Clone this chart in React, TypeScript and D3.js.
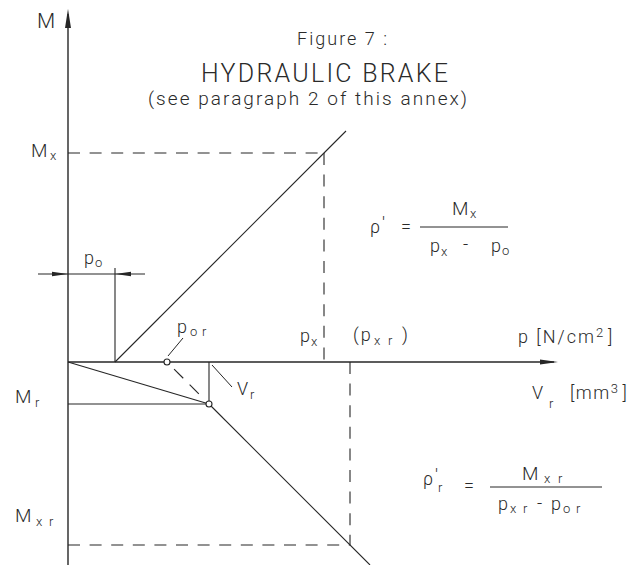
import React from "react";
import * as d3 from "d3";

// Diagram values (abstract units: p to the right, M upwards)
const pAxisRange = [0, 490];
const mAxisRange = [-203, 352];
const pNames = ["p0", "por", "pr", "px", "pxr"];
const pValues = [47, 99, 141, 256, 282];
const mNames = ["Mx", "Mr", "Mxr"];
const mValues = [209, -42, -183];
const upperLineEnd = [278, 231];
const lowerLineEnd = [302, -203];
const dimensionLevel = [88];
const dimensionSpan = [-30, 77];
const p0TickTop = [94];

const W = 637;
const H = 565;
const INK = "#262626";
const FONT = "Roboto, 'DejaVu Sans', sans-serif";

export default function App() {
  const x = d3.scaleLinear().domain(pAxisRange).range([68, 558]);
  const y = d3.scaleLinear().domain(mAxisRange).range([H, 10]);
  const P = (n: string) => pValues[pNames.indexOf(n)];
  const M = (n: string) => mValues[mNames.indexOf(n)];
  const line = d3.line<[number, number]>().x((d) => x(d[0])).y((d) => y(d[1]));

  const p0 = P("p0"), por = P("por"), pr = P("pr"), px = P("px"), pxr = P("pxr");
  const Mx = M("Mx"), Mr = M("Mr"), Mxr = M("Mxr");

  const solid: [number, number][][] = [
    [[p0, 0], [upperLineEnd[0], upperLineEnd[1]]],
    [[p0, 0], [p0, p0TickTop[0]]],
    [[0, 0], [pr, Mr]],
    [[0, Mr], [pr, Mr]],
    [[pr, 0], [pr, Mr]],
    [[pr, Mr], [lowerLineEnd[0], lowerLineEnd[1]]],
    [[dimensionSpan[0], dimensionLevel[0]], [dimensionSpan[1], dimensionLevel[0]]],
  ];
  const dashed: [number, number][][] = [
    [[0, Mx], [px, Mx]],
    [[px, Mx], [px, 0]],
    [[pxr, 0], [pxr, Mxr]],
    [[0, Mxr], [pxr, Mxr]],
  ];

  const ox = x(0), oy = y(0);
  const topY = y(mAxisRange[1]);
  const rightX = x(pAxisRange[1]);

  // arrowheads
  const yArrow = `M${ox},${topY - 1} L${ox - 3},${topY + 18} L${ox + 3},${topY + 18} Z`;
  const xArrow = `M${rightX},${oy} L${rightX - 18},${oy - 2.6} L${rightX - 18},${oy + 2.6} Z`;
  const dimY = y(dimensionLevel[0]);
  const dimLeft = `M${ox},${dimY} L${ox - 16},${dimY - 2.2} L${ox - 16},${dimY + 2.2} Z`;
  const dimRight = `M${x(p0)},${dimY} L${x(p0) + 16},${dimY - 2.2} L${x(p0) + 16},${dimY + 2.2} Z`;

  // dashed construction from p_or to point (pr, Mr)
  const a = [x(por), y(0)], b = [x(pr), y(Mr)];
  const len = Math.hypot(b[0] - a[0], b[1] - a[1]);
  const u = [(b[0] - a[0]) / len, (b[1] - a[1]) / len];
  const seg = (s: number, e: number) =>
    `M${a[0] + u[0] * s},${a[1] + u[1] * s} L${a[0] + u[0] * e},${a[1] + u[1] * e}`;

  const txt = { fontFamily: FONT, fontWeight: 300, fill: "#2a2a2a" } as const;
  const T = (
    px_: number,
    py: number,
    s: string,
    size = 18,
    ls = 0
  ) => (
    <text {...txt} x={px_} y={py} fontSize={size} letterSpacing={ls}>
      {s}
    </text>
  );

  return (
    <svg
      width={W}
      height={H}
      viewBox={`0 0 ${W} ${H}`}
      style={{ position: "fixed", left: 0, top: 0, background: "#fff" }}
    >
      <rect width={W} height={H} fill="#fff" />
      {/* axes */}
      <line x1={ox} y1={topY + 4} x2={ox} y2={H} stroke={INK} strokeWidth={1.4} />
      <line x1={ox} y1={oy} x2={rightX - 4} y2={oy} stroke={INK} strokeWidth={1.4} />
      <path d={yArrow} fill={INK} />
      <path d={xArrow} fill={INK} />
      <path d={dimLeft} fill={INK} />
      <path d={dimRight} fill={INK} />

      {solid.map((s, i) => (
        <path key={"s" + i} d={line(s) || ""} stroke={INK} strokeWidth={1.1} fill="none" />
      ))}
      {dashed.map((s, i) => (
        <path
          key={"d" + i}
          d={line(s) || ""}
          stroke={INK}
          strokeWidth={1.1}
          fill="none"
          strokeDasharray="12 9.6"
        />
      ))}
      <path d={seg(10, 23)} stroke={INK} strokeWidth={1.1} />
      <path d={seg(32, 45)} stroke={INK} strokeWidth={1.1} />

      {/* leaders */}
      <line x1={a[0] + 1} y1={a[1] - 6} x2={a[0] + 16} y2={a[1] - 24} stroke={INK} strokeWidth={1} />
      <line x1={x(pr) + 3} y1={oy + 3} x2={x(pr) + 23} y2={oy + 25} stroke={INK} strokeWidth={1} />

      <circle cx={a[0]} cy={a[1]} r={3} fill="#fff" stroke={INK} strokeWidth={1.1} />
      <circle cx={b[0]} cy={b[1]} r={3} fill="#fff" stroke={INK} strokeWidth={1.1} />

      {/* titles */}
      <text {...txt} x={297} y={45} fontSize={18} textLength={90} lengthAdjust="spacing">
        Figure 7 :
      </text>
      <text {...txt} x={201} y={82} fontSize={25} textLength={247} lengthAdjust="spacing">
        HYDRAULIC BRAKE
      </text>
      <text {...txt} x={148} y={105} fontSize={19} textLength={319} lengthAdjust="spacing">
        (see paragraph 2 of this annex)
      </text>

      {/* axis labels */}
      {T(37, 28, "M", 21)}
      {T(31, 157, "M", 19)}
      {T(50, 160, "x", 13)}
      {T(84, 264, "p", 18)}
      {T(95, 267, "o", 13)}
      {T(177, 333, "p", 18)}
      {T(190, 336, "o", 13)}
      {T(202, 336, "r", 13)}
      {T(300, 342, "p", 18)}
      {T(311, 346, "x", 13)}
      {T(353, 341, "(p", 18, 2)}
      {T(374, 345, "x", 13)}
      {T(388, 345, "r", 13)}
      {T(402, 341, ")", 18)}
      <text {...txt} x={518} y={343} fontSize={18} letterSpacing={2}>
        p [N/cm<tspan dy={-6} fontSize={13}>2</tspan>
        <tspan dy={6} dx={3}>]</tspan>
      </text>
      {T(532, 399, "V", 18)}
      {T(549, 408, "r", 13)}
      <text {...txt} x={570} y={399} fontSize={18} letterSpacing={1.5}>
        [mm<tspan dy={-6} fontSize={13}>3</tspan>
        <tspan dy={6} dx={3}>]</tspan>
      </text>
      {T(237, 395, "V", 18)}
      {T(250, 399, "r", 13)}
      {T(15, 403, "M", 19)}
      {T(35, 407, "r", 13)}
      {T(15, 522, "M", 19)}
      {T(36, 526, "x", 13)}
      {T(49, 526, "r", 13)}

      {/* formula 1 */}
      {T(370, 233, "ρ", 18)}
      {T(382, 230, "'", 18)}
      {T(401, 233, "=", 18)}
      <line x1={420} y1={227} x2={508} y2={227} stroke={INK} strokeWidth={1} />
      {T(452, 215, "M", 19)}
      {T(470, 218, "x", 13)}
      {T(430, 252, "p", 18)}
      {T(441, 256, "x", 13)}
      {T(463, 250, "-", 18)}
      {T(491, 252, "p", 18)}
      {T(502, 255, "o", 13)}

      {/* formula 2 */}
      {T(423, 485, "ρ", 18)}
      {T(435, 482, "'", 18)}
      {T(438, 492, "r", 13)}
      {T(464, 492, "=", 18)}
      <line x1={490} y1={487} x2={602} y2={487} stroke={INK} strokeWidth={1} />
      {T(522, 480, "M", 19)}
      {T(544, 483, "x", 13)}
      {T(558, 483, "r", 13)}
      {T(498, 510, "p", 18)}
      {T(510, 513, "x", 13)}
      {T(523, 513, "r", 13)}
      {T(537, 509, "-", 18)}
      {T(551, 510, "p", 18)}
      {T(563, 513, "o", 13)}
      {T(576, 513, "r", 13)}
    </svg>
  );
}
